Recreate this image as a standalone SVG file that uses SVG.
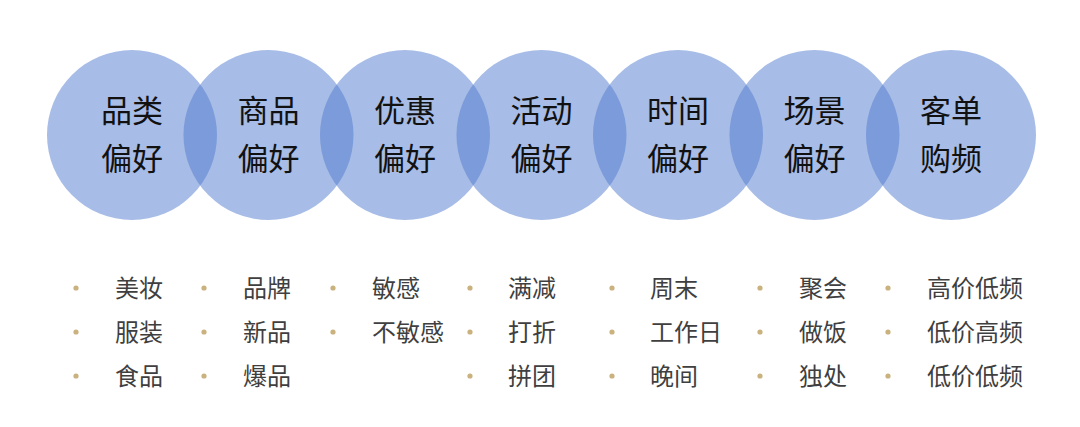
<svg xmlns="http://www.w3.org/2000/svg" width="1080" height="427" viewBox="0 0 1080 427">
<style>
.c{fill:#4f7acd;fill-opacity:0.5}
.t{font-family:"Noto Sans CJK SC","Noto Sans",sans-serif;font-size:31px;fill:#111111;text-anchor:middle}
.l{font-family:"Noto Sans CJK SC","Noto Sans",sans-serif;font-size:24px;fill:#3f3f3f}
.d{fill:#c9b27e}
</style>
<rect width="1080" height="427" fill="#ffffff"/>
<g id="node-1"><circle class="c" cx="132" cy="135" r="85"/><text class="t" x="132" y="122">品类</text><text class="t" x="132" y="170">偏好</text></g>
<g id="node-2"><circle class="c" cx="268.5" cy="135" r="85"/><text class="t" x="268.5" y="122">商品</text><text class="t" x="268.5" y="170">偏好</text></g>
<g id="node-3"><circle class="c" cx="405" cy="135" r="85"/><text class="t" x="405" y="122">优惠</text><text class="t" x="405" y="170">偏好</text></g>
<g id="node-4"><circle class="c" cx="541.5" cy="135" r="85"/><text class="t" x="541.5" y="122">活动</text><text class="t" x="541.5" y="170">偏好</text></g>
<g id="node-5"><circle class="c" cx="678" cy="135" r="85"/><text class="t" x="678" y="122">时间</text><text class="t" x="678" y="170">偏好</text></g>
<g id="node-6"><circle class="c" cx="814.5" cy="135" r="85"/><text class="t" x="814.5" y="122">场景</text><text class="t" x="814.5" y="170">偏好</text></g>
<g id="node-7"><circle class="c" cx="951" cy="135" r="85"/><text class="t" x="951" y="122">客单</text><text class="t" x="951" y="170">购频</text></g>
<g id="connectors"></g>
<g id="list-1">
<circle class="d" cx="76" cy="288" r="2.6"/><text class="l" x="115" y="297">美妆</text>
<circle class="d" cx="76" cy="332" r="2.6"/><text class="l" x="115" y="341">服装</text>
<circle class="d" cx="76" cy="376" r="2.6"/><text class="l" x="115" y="385">食品</text>
</g>
<g id="list-2">
<circle class="d" cx="204" cy="288" r="2.6"/><text class="l" x="243" y="297">品牌</text>
<circle class="d" cx="204" cy="332" r="2.6"/><text class="l" x="243" y="341">新品</text>
<circle class="d" cx="204" cy="376" r="2.6"/><text class="l" x="243" y="385">爆品</text>
</g>
<g id="list-3">
<circle class="d" cx="333" cy="288" r="2.6"/><text class="l" x="372" y="297">敏感</text>
<circle class="d" cx="333" cy="332" r="2.6"/><text class="l" x="372" y="341">不敏感</text>
</g>
<g id="list-4">
<circle class="d" cx="470" cy="288" r="2.6"/><text class="l" x="508" y="297">满减</text>
<circle class="d" cx="470" cy="332" r="2.6"/><text class="l" x="508" y="341">打折</text>
<circle class="d" cx="470" cy="376" r="2.6"/><text class="l" x="508" y="385">拼团</text>
</g>
<g id="list-5">
<circle class="d" cx="612" cy="288" r="2.6"/><text class="l" x="650" y="297">周末</text>
<circle class="d" cx="612" cy="332" r="2.6"/><text class="l" x="650" y="341">工作日</text>
<circle class="d" cx="612" cy="376" r="2.6"/><text class="l" x="650" y="385">晚间</text>
</g>
<g id="list-6">
<circle class="d" cx="760" cy="288" r="2.6"/><text class="l" x="799" y="297">聚会</text>
<circle class="d" cx="760" cy="332" r="2.6"/><text class="l" x="799" y="341">做饭</text>
<circle class="d" cx="760" cy="376" r="2.6"/><text class="l" x="799" y="385">独处</text>
</g>
<g id="list-7">
<circle class="d" cx="888" cy="288" r="2.6"/><text class="l" x="927" y="297">高价低频</text>
<circle class="d" cx="888" cy="332" r="2.6"/><text class="l" x="927" y="341">低价高频</text>
<circle class="d" cx="888" cy="376" r="2.6"/><text class="l" x="927" y="385">低价低频</text>
</g>
</svg>
